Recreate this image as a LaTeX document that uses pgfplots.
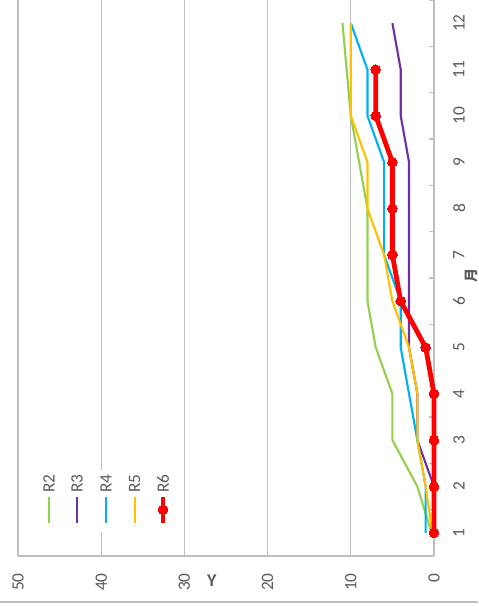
\documentclass[border=0pt]{standalone}
\usepackage{fontspec}
\setmainfont{Carlito}
\newfontfamily\cjk{Noto Sans CJK SC}
\usepackage{pgfplots}
\pgfplotsset{compat=1.18}

\definecolor{rtwo}{HTML}{92D050}
\definecolor{rthree}{HTML}{7030A0}
\definecolor{rfour}{HTML}{00B0F0}
\definecolor{rfive}{HTML}{FFC000}
\definecolor{rsix}{HTML}{FF0000}
\definecolor{labelgray}{HTML}{595959}
\definecolor{gridgray}{HTML}{BFBFBF}

\tikzset{legendtext/.style={font=\fontsize{13}{15}\selectfont, text=labelgray, rotate=90, anchor=west, inner sep=0pt}}

% chart is drawn turned a quarter turn: values run right to left, months bottom to top
\begin{document}
\begin{tikzpicture}
\begin{axis}[
    at={(0,0)}, anchor=south west,
    scale only axis, width=312pt, height=417pt,
    x dir=reverse,
    xmin=0, xmax=50, ymin=0.5, ymax=12.5,
    xtick={0,10,...,50}, ytick={1,...,12},
    minor ytick={0.5,1.5,...,12.5},
    xmajorgrids,
    major grid style={line width=1pt, gridgray},
    major tick length=0pt, minor tick length=3.75pt, tick align=inside,
    tick style={line width=1pt, gridgray},
    ytick pos=right, yticklabel pos=right,
    xtick pos=left, xticklabel pos=left,
    axis line style={draw=none},
    clip=false,
    /pgf/number format/assume math mode=true,
    tick label style={font=\fontsize{13}{15}\selectfont, text=labelgray, inner sep=0pt},
    xticklabel style={rotate=90, anchor=east},
    yticklabel style={rotate=90, anchor=north},
    xticklabel shift=12.75pt,
    yticklabel shift=14.25pt,
]
\draw[gridgray, line width=1pt] (axis cs:0,0.5) -- (axis cs:0,12.5);
\draw[gridgray, line width=1pt] (axis cs:0,0.5) -- (axis cs:50,0.5);

\addplot[rtwo, line width=1.6pt] coordinates {
    (0.3,1) (2,2) (5,3) (5,4) (7,5) (8,6) (8,7) (8,8) (9,9) (10,10) (10.5,11) (11,12)};
\addplot[rthree, line width=1.6pt] coordinates {
    (0,1) (0,2) (2,3) (2,4) (3,5) (3,6) (3,7) (3,8) (3,9) (4,10) (4,11) (5,12)};
\addplot[rfour, line width=1.6pt] coordinates {
    (1,1) (1,2) (2,3) (3,4) (4,5) (4,6) (6,7) (6,8) (6,9) (8,10) (8,11) (10,12)};
\addplot[rfive, line width=1.6pt] coordinates {
    (0.2,1) (1,2) (2,3) (2,4) (3,5) (5,6) (6,7) (8,8) (8,9) (10,10) (10,11) (10,12)};
\addplot[rsix, line width=3.6pt, mark=*, mark size=3.6pt, mark options={line width=0pt}] coordinates {
    (0,1) (0,2) (0,3) (0,4) (1,5) (4,6) (5,7) (5,8) (5,9) (7,10) (7,11)};

% legend, laid out in the same turned frame
\fill[white] (axis cs:47.9,1.02) rectangle (axis cs:30.6,2.36);
\addplot[rtwo, line width=1.6pt, forget plot] coordinates {(46.27,1.216) (46.27,1.776)};
\addplot[rthree, line width=1.6pt, forget plot] coordinates {(42.91,1.216) (42.91,1.776)};
\addplot[rfour, line width=1.6pt, forget plot] coordinates {(39.42,1.216) (39.42,1.776)};
\addplot[rfive, line width=1.6pt, forget plot] coordinates {(35.97,1.216) (35.97,1.776)};
\addplot[rsix, line width=3.6pt, mark=*, mark size=3.6pt, mark options={line width=0pt},
    mark repeat=2, mark phase=2, forget plot] coordinates {(32.57,1.216) (32.57,1.496) (32.57,1.776)};
\node[legendtext] at (axis cs:46.27,1.862) {R2};
\node[legendtext] at (axis cs:42.91,1.862) {R3};
\node[legendtext] at (axis cs:39.42,1.862) {R4};
\node[legendtext] at (axis cs:35.97,1.862) {R5};
\node[legendtext] at (axis cs:32.57,1.862) {R6};

\node[font=\bfseries\fontsize{13.5}{15}\selectfont, text=labelgray] at ([yshift=-18.75pt]axis cs:26.7,0.5) {Y};
\node[font=\cjk\bfseries\fontsize{10.5}{12}\selectfont, text=labelgray, rotate=90] at ([xshift=27.75pt]axis cs:0,6.55) {月};
\end{axis}
\pgfresetboundingbox
\useasboundingbox (-13.5pt,-37.5pt) rectangle (345pt,417pt);
\draw[gridgray, line width=1pt] (-13.5pt,-34.5pt) -- (345pt,-34.5pt);
\end{tikzpicture}
\end{document}
